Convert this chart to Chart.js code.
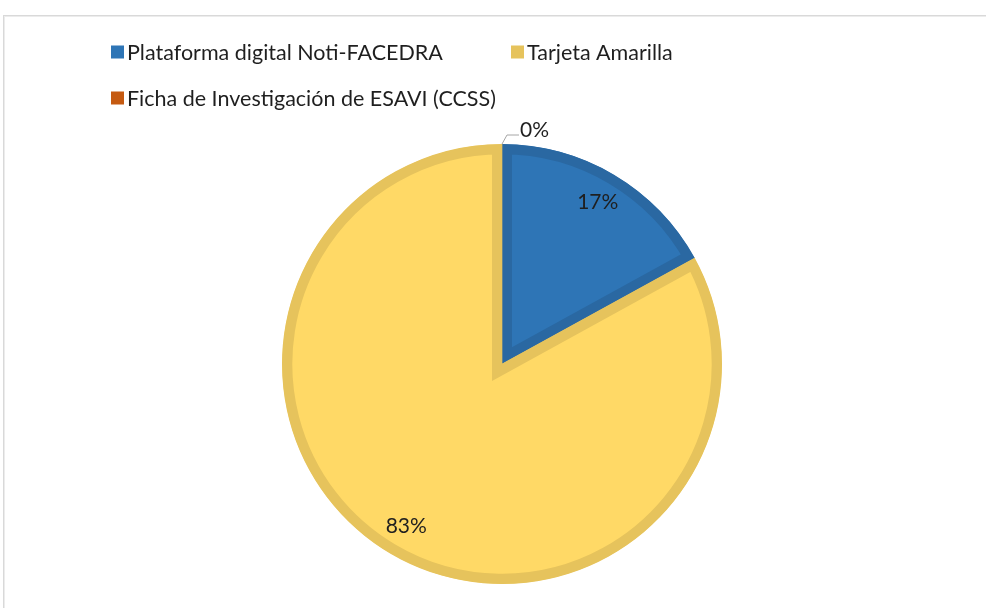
<!DOCTYPE html>
<html>
<head>
<meta charset="utf-8">
<script src="https://cdn.jsdelivr.net/npm/chart.js@4"></script>
<style>
  html, body { margin: 0; padding: 0; background: #fff; overflow: hidden; }
  #frame { position: absolute; left: 3px; top: 15px; width: 1000px; height: 620px; border: 1px solid #d9d9d9; box-shadow: inset 1px 1px 0 #ececec; }
  #wrap { position: absolute; left: 0; top: 0; width: 986px; height: 608px; }
</style>
</head>
<body>
<div id="frame"></div>
<div id="wrap"><canvas id="chart-pie" width="986" height="608"></canvas></div>
<script>
const labels = ["Plataforma digital Noti-FACEDRA", "Tarjeta Amarilla", "Ficha de Investigación de ESAVI (CCSS)"];
const values = [17, 83, 0];
const fillColors = ["#2e75b6", "#ffd966", "#c55a11"];
const edgeColors = ["#2a68a2", "#e6c35c", "#a84c0e"];

const FONT = "Lato, 'Open Sans', sans-serif";
const TEXT = "#1f1f1f";

// legend laid out like the original: two rows, left aligned
const legendSpots = [[111, 52], [511, 52], [111, 98]];

const legendPlugin = {
  id: "legendLeft",
  afterDraw(chart) {
    const ctx = chart.ctx;
    ctx.save();
    ctx.font = "21.5px " + FONT;
    ctx.textBaseline = "middle";
    labels.forEach((lab, i) => {
      const [x, y] = legendSpots[i];
      ctx.fillStyle = i === 1 ? edgeColors[i] : fillColors[i];
      ctx.fillRect(x, y - 6.5, 13, 13);
      ctx.fillStyle = TEXT;
      ctx.fillText(lab, x + 16, y + 1);
    });
    ctx.restore();
  }
};

const labelPlugin = {
  id: "pctLabels",
  afterDatasetsDraw(chart) {
    const ctx = chart.ctx;
    const meta = chart.getDatasetMeta(0);
    const total = values.reduce((a, b) => a + b, 0);
    ctx.save();
    ctx.font = "21px " + FONT;
    ctx.fillStyle = TEXT;
    ctx.textBaseline = "middle";
    meta.data.forEach((arc, i) => {
      const pct = Math.round(values[i] / total * 100) + "%";
      const mid = (arc.startAngle + arc.endAngle) / 2;
      if (values[i] === 0) {
        // leader line out of the pie for the empty slice
        const x0 = arc.x + Math.cos(mid) * arc.outerRadius;
        const y0 = arc.y + Math.sin(mid) * arc.outerRadius;
        ctx.strokeStyle = "#a6a6a6";
        ctx.lineWidth = 1;
        ctx.beginPath();
        ctx.moveTo(x0, y0);
        ctx.lineTo(x0 + 5, y0 - 9);
        ctx.lineTo(x0 + 17, y0 - 9);
        ctx.stroke();
        ctx.textAlign = "left";
        ctx.fillText(pct, x0 + 18, y0 - 14);
      } else {
        const r = arc.outerRadius * 0.855;
        ctx.textAlign = "center";
        ctx.fillText(pct, arc.x + Math.cos(mid) * r, arc.y + Math.sin(mid) * r);
      }
    });
    ctx.restore();
  }
};

new Chart(document.getElementById("chart-pie").getContext("2d"), {
  type: "pie",
  data: {
    labels: labels,
    datasets: [{
      data: values,
      backgroundColor: fillColors,
      borderColor: edgeColors,
      borderWidth: 10,
      borderAlign: "inner",
      borderJoinStyle: "miter"
    }]
  },
  options: {
    responsive: false,
    animation: false,
    layout: { padding: { left: 282, right: 264, top: 144, bottom: 24 } },
    plugins: {
      legend: { display: false },
      tooltip: { enabled: false }
    }
  },
  plugins: [legendPlugin, labelPlugin]
});
</script>
</body>
</html>
